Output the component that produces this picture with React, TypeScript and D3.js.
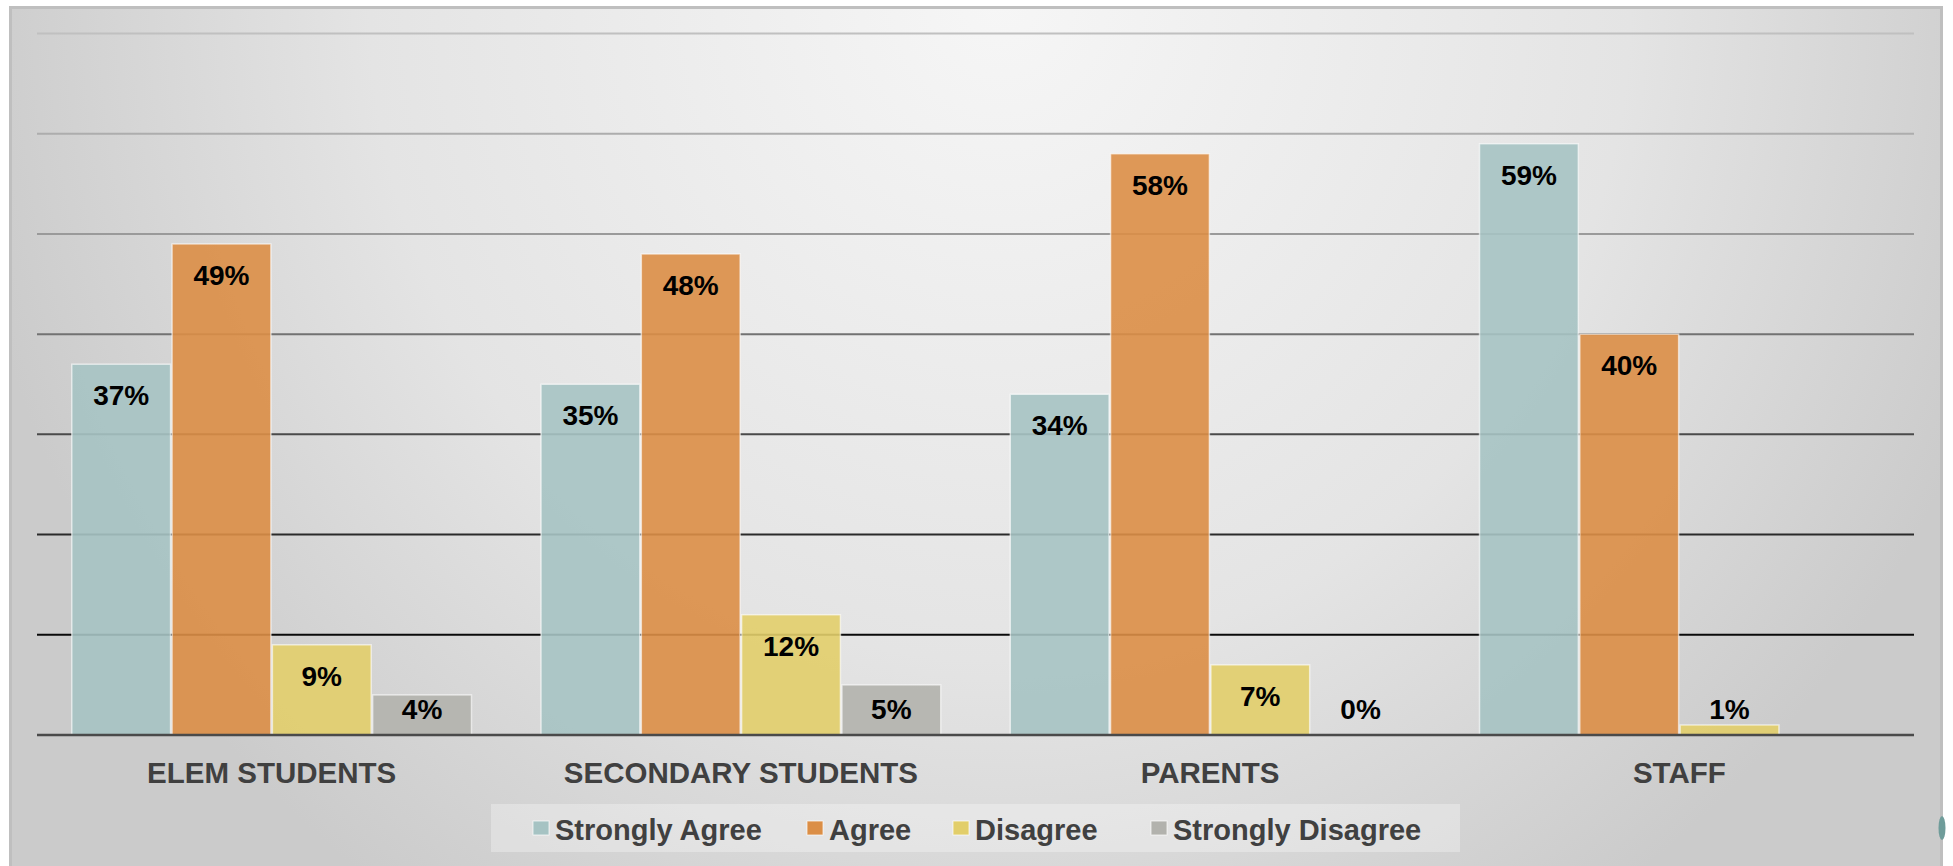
import { useEffect, useRef } from "react";
import * as d3 from "d3";

const categories = ["ELEM STUDENTS", "SECONDARY STUDENTS", "PARENTS", "STAFF"];
const seriesNames = ["Strongly Agree", "Agree", "Disagree", "Strongly Disagree"];
const stronglyAgree = [37, 35, 34, 59];
const agree = [49, 48, 58, 40];
const disagree = [9, 12, 7, 1];
const stronglyDisagree = [4, 5, 0, null];
const gridTicks = [10, 20, 30, 40, 50, 60, 70];

const colors = ["#a6c3c3", "#db8e46", "#e2ce6a", "#b2b2ad"];

const App = () => {
  const svgRef = useRef<SVGSVGElement | null>(null);

  useEffect(() => {
    if (!svgRef.current) return;
    const svg = d3.select(svgRef.current);
    svg.selectAll("*").remove();

    const width = 1953;
    const height = 866;
    const left = 37;
    const right = 1914;
    const baseY = 735;
    const topY = 33.5;

    const defs = svg.append("defs");
    const bg = defs.append("radialGradient")
      .attr("id", "bg")
      .attr("gradientUnits", "userSpaceOnUse")
      .attr("cx", 1000).attr("cy", 0).attr("r", 1000)
      .attr("gradientTransform", "translate(1000,0) scale(1.05,1.1) translate(-1000,0)");
    bg.append("stop").attr("offset", "0").attr("stop-color", "#f6f6f6");
    bg.append("stop").attr("offset", "0.6").attr("stop-color", "#e4e4e4");
    bg.append("stop").attr("offset", "1").attr("stop-color", "#cbcbcb");

    svg.append("rect").attr("width", width).attr("height", height).attr("fill", "#ffffff");
    svg.append("rect")
      .attr("x", 10.5).attr("y", 7.5)
      .attr("width", 1931).attr("height", 880)
      .attr("fill", "url(#bg)")
      .attr("stroke", "#bfbfbf")
      .attr("stroke-width", 3);

    const y = d3.scaleLinear().domain([0, 70]).range([baseY, topY]);
    const x0 = d3.scaleBand<string>()
      .domain(categories)
      .range([left, right])
      .paddingInner(0.145)
      .paddingOuter(0.0725);
    const x1 = d3.scaleBand<string>()
      .domain(seriesNames)
      .range([0, x0.bandwidth()]);

    const gridColor = d3.scaleLinear<string>()
      .domain([10, 30, 50, 70])
      .range(["#0a0a0a", "#4a4a4a", "#9a9a9a", "#c0c0c0"]);

    svg.append("g")
      .selectAll("line")
      .data(gridTicks)
      .enter().append("line")
      .attr("x1", left).attr("x2", right)
      .attr("y1", d => y(d)).attr("y2", d => y(d))
      .attr("stroke", d => gridColor(d))
      .attr("stroke-width", 2);

    const series = [stronglyAgree, agree, disagree, stronglyDisagree];

    const groups = svg.append("g")
      .selectAll("g")
      .data(categories)
      .enter().append("g")
      .attr("transform", d => `translate(${x0(d)},0)`);

    groups.each(function (cat, ci) {
      const g = d3.select(this);
      series.forEach((vals, si) => {
        const v = vals[ci];
        if (v === null || v === undefined) return;
        const bx = x1(seriesNames[si]) ?? 0;
        if (v > 0) {
          g.append("rect")
            .attr("x", bx + 0.75)
            .attr("y", y(v))
            .attr("width", x1.bandwidth() - 1.5)
            .attr("height", baseY - y(v))
            .attr("fill", colors[si])
            .attr("fill-opacity", 0.9)
            .attr("stroke", "rgba(255,255,255,0.6)")
            .attr("stroke-width", 1.5);
        }
        g.append("text")
          .attr("x", bx + x1.bandwidth() / 2)
          .attr("y", Math.min(y(v) + 41, 719))
          .attr("text-anchor", "middle")
          .attr("font-family", "'Liberation Sans', Arial, sans-serif")
          .attr("font-weight", "bold")
          .attr("font-size", 28)
          .attr("fill", "#000")
          .text(`${v}%`);
      });
    });

    // baseline
    svg.append("line")
      .attr("x1", left).attr("x2", right)
      .attr("y1", y(0)).attr("y2", y(0))
      .attr("stroke", "#4a4a4a")
      .attr("stroke-width", 2.5);

    // category labels
    svg.append("g")
      .selectAll("text")
      .data(categories)
      .enter().append("text")
      .attr("x", d => (x0(d) ?? 0) + x0.bandwidth() / 2)
      .attr("y", 783)
      .attr("text-anchor", "middle")
      .attr("font-family", "'Liberation Sans', Arial, sans-serif")
      .attr("font-weight", "bold")
      .attr("font-size", 29.5)
      .attr("fill", "#404040")
      .text(d => d);

    // legend
    const legendX = [533, 807, 953, 1151];
    svg.append("rect")
      .attr("x", 491).attr("y", 804)
      .attr("width", 969).attr("height", 48)
      .attr("fill", "#ffffff")
      .attr("fill-opacity", 0.3);
    const items = svg.append("g")
      .selectAll("g")
      .data(seriesNames)
      .enter().append("g")
      .attr("transform", (_, i) => `translate(${legendX[i]},0)`);
    items.append("rect")
      .attr("x", 0).attr("y", 821)
      .attr("width", 16).attr("height", 14)
      .attr("fill", (_, i) => colors[i])
      .attr("stroke", "rgba(255,255,255,0.7)")
      .attr("stroke-width", 1);
    items.append("text")
      .attr("x", 22).attr("y", 840)
      .attr("font-family", "'Liberation Sans', Arial, sans-serif")
      .attr("font-weight", "bold")
      .attr("font-size", 29)
      .attr("fill", "#404040")
      .text(d => d);

    // small artifact at the right edge
    svg.append("ellipse")
      .attr("cx", 1942).attr("cy", 828)
      .attr("rx", 3.5).attr("ry", 12)
      .attr("fill", "#6f9c9a");
  }, []);

  return (
    <svg
      ref={svgRef}
      width={1953}
      height={866}
      style={{ position: "absolute", left: 0, top: 0, display: "block" }}
    ></svg>
  );
};

export default App;
